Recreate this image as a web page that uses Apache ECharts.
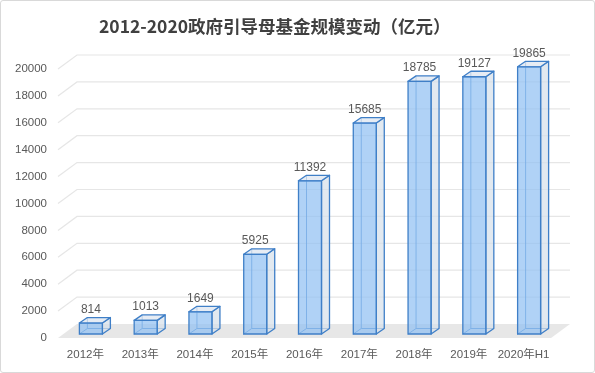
<!DOCTYPE html>
<html>
<head>
<meta charset="utf-8">
<script src="https://cdn.jsdelivr.net/npm/echarts@6/dist/echarts.min.js"></script>
<style>
html,body{margin:0;padding:0;background:#fff;}
#wrap{position:relative;width:595px;height:373px;}
#chart{position:absolute;left:0;top:0;width:595px;height:373px;}
#frame{position:absolute;left:0;top:0;width:595px;height:373px;box-sizing:border-box;border:1px solid #d9d9d9;border-radius:3px;pointer-events:none;}
</style>
</head>
<body>
<div id="wrap"><div id="chart"></div><div id="frame"></div></div>
<script>
// ---- data ----
const categories = ['2012年','2013年','2014年','2015年','2016年','2017年','2018年','2019年','2020年H1'];
const fundSize = [814, 1013, 1649, 5925, 11392, 15685, 18785, 19127, 19865];
const yTicks = [0, 2000, 4000, 6000, 8000, 10000, 12000, 14000, 16000, 18000, 20000];
const titleText = '2012-2020政府引导母基金规模变动（亿元）';

// ---- layout / style ----
const WALL_DX = 19, WALL_DY = -14;      // depth of the floor / side wall
const BAR_OFF_X = 5.5, BAR_OFF_Y = -4;  // bar front plane offset
const BAR_DX = 8, BAR_DY = -5.5;        // bar depth
const BAR_W = 23;
const EDGE = '#3f7fc7';
const TXT = '#595959';
const FONT = '"Liberation Sans", "Noto Sans CJK SC", sans-serif';

const chart = echarts.init(document.getElementById('chart'), null, {renderer: 'canvas'});

function wallItem(params, api) {
  const cs = params.coordSys;
  const v = api.value(1);
  const y = api.coord([0, v])[1];
  const children = [];
  if (v === yTicks[0]) {
    children.push({
      type: 'polygon',
      shape: {points: [[cs.x, y], [cs.x + cs.width, y], [cs.x + cs.width + WALL_DX, y + WALL_DY], [cs.x + WALL_DX, y + WALL_DY]]},
      style: {fill: '#e7e7e7', stroke: null}
    });
  } else {
    children.push({
      type: 'polyline',
      shape: {points: [[cs.x, y], [cs.x + WALL_DX, y + WALL_DY], [cs.x + cs.width + WALL_DX, y + WALL_DY]]},
      style: {stroke: '#e6e6e6', lineWidth: 1.2, fill: null}
    });
  }
  return {type: 'group', children: children};
}

function barItem(params, api) {
  const i = api.value(0), v = api.value(1);
  const top = api.coord([i, v]);
  const bot = api.coord([i, 0]);
  const x0 = top[0] - BAR_W / 2 + BAR_OFF_X, x1 = x0 + BAR_W;
  const yT = top[1] + BAR_OFF_Y, yB = bot[1] + BAR_OFF_Y;
  const dx = BAR_DX, dy = BAR_DY;
  const lw = 1.3;
  return {
    type: 'group',
    children: [
      // hidden back edges, seen through the glassy box
      {type: 'polyline', shape: {points: [[x0 + dx, yT + dy], [x0 + dx, yB + dy], [x1 + dx, yB + dy]]},
        style: {stroke: EDGE, lineWidth: 1, fill: null, opacity: 0.9}},
      {type: 'line', shape: {x1: x0, y1: yB, x2: x0 + dx, y2: yB + dy},
        style: {stroke: EDGE, lineWidth: 1, opacity: 0.9}},
      // right side
      {type: 'polygon', shape: {points: [[x1, yT], [x1 + dx, yT + dy], [x1 + dx, yB + dy], [x1, yB]]},
        style: {fill: 'rgba(214,224,234,0.7)', stroke: EDGE, lineWidth: lw, lineJoin: 'round'}},
      // top
      {type: 'polygon', shape: {points: [[x0, yT], [x1, yT], [x1 + dx, yT + dy], [x0 + dx, yT + dy]]},
        style: {fill: 'rgba(222,230,240,0.75)', stroke: EDGE, lineWidth: lw, lineJoin: 'round'}},
      // front
      {type: 'rect', shape: {x: x0, y: yT, width: BAR_W, height: yB - yT},
        style: {fill: 'rgba(145,193,242,0.72)', stroke: EDGE, lineWidth: lw}},
      // value label
      {type: 'text', style: {text: String(v), x: (x0 + x1) / 2, y: yT + dy - 8,
        align: 'center', verticalAlign: 'middle', fill: TXT, fontSize: 12, fontFamily: FONT}}
    ]
  };
}

chart.setOption({
  animation: false,
  backgroundColor: '#ffffff',
  title: {
    text: titleText,
    left: 94, top: 13,
    textStyle: {fontSize: 17.5, fontWeight: 'bold', color: '#404040', fontFamily: '"Noto Sans CJK SC", sans-serif'}
  },
  grid: {left: 58, right: 44, top: 69, bottom: 35, containLabel: false},
  xAxis: {
    type: 'category', data: categories, boundaryGap: true,
    axisLine: {show: false}, axisTick: {show: false}, splitLine: {show: false},
    axisLabel: {color: TXT, fontSize: 11.5, fontFamily: FONT, margin: 11, interval: 0}
  },
  yAxis: {
    type: 'value', min: yTicks[0], max: yTicks[yTicks.length - 1], interval: yTicks[1] - yTicks[0],
    axisLine: {show: false}, axisTick: {show: false}, splitLine: {show: false},
    axisLabel: {color: TXT, fontSize: 11.5, fontFamily: FONT, margin: 11, formatter: v => String(v)}
  },
  series: [
    {type: 'custom', name: 'walls', z: 1, silent: true, renderItem: wallItem,
      data: yTicks.map(v => [0, v])},
    {type: 'custom', name: '规模', z: 5, renderItem: barItem,
      data: fundSize.map((v, i) => [i, v])}
  ]
});
</script>
</body>
</html>
